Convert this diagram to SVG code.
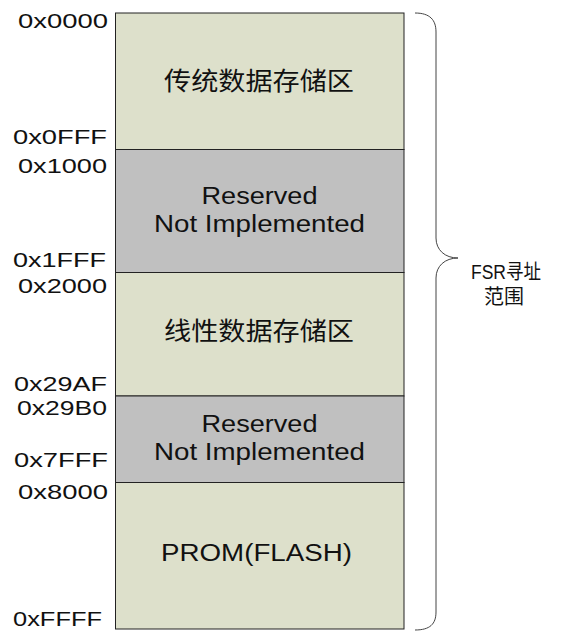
<svg xmlns="http://www.w3.org/2000/svg" width="582" height="635" viewBox="0 0 582 635">
<style>
.g{fill:#dde0cb;stroke:#222;stroke-width:1}
.r{fill:#c0c0c0;stroke:#222;stroke-width:1}
.t{font-family:"Liberation Sans","Noto Sans CJK SC",sans-serif;fill:#111}
.addr{font-size:21px;text-anchor:end}
.blk{font-size:23px;text-anchor:middle}
.cjk{font-family:"Noto Sans CJK SC","Liberation Sans",sans-serif;font-size:25px;text-anchor:middle;fill:#111}
.lbl{font-family:"Liberation Sans","Noto Sans CJK SC",sans-serif;font-size:20px;text-anchor:middle;fill:#111}
</style>
<rect width="582" height="635" fill="#fff"/>
<g id="blocks">
<g id="n1"><rect class="g" x="115.5" y="13" width="288.5" height="136.5"/><text class="cjk" x="259" y="90" textLength="190" lengthAdjust="spacingAndGlyphs">传统数据存储区</text></g>
<g id="n2"><rect class="r" x="115.5" y="149.5" width="288.5" height="123"/><text class="t blk" x="259.5" y="204" textLength="116" lengthAdjust="spacingAndGlyphs">Reserved</text><text class="t blk" x="259.5" y="232" textLength="211" lengthAdjust="spacingAndGlyphs">Not Implemented</text></g>
<g id="n3"><rect class="g" x="115.5" y="272.5" width="288.5" height="123.5"/><text class="cjk" x="259" y="340" textLength="190" lengthAdjust="spacingAndGlyphs">线性数据存储区</text></g>
<g id="n4"><rect class="r" x="115.5" y="396" width="288.5" height="86.5"/><text class="t blk" x="259.5" y="432" textLength="116" lengthAdjust="spacingAndGlyphs">Reserved</text><text class="t blk" x="259.5" y="460" textLength="211" lengthAdjust="spacingAndGlyphs">Not Implemented</text></g>
<g id="n5"><rect class="g" x="115.5" y="482.5" width="288.5" height="146.5"/><text class="t blk" x="256.5" y="561" textLength="191" lengthAdjust="spacingAndGlyphs">PROM(FLASH)</text></g>
</g>
<g id="addresses">
<text class="t addr" x="108" y="28" textLength="90" lengthAdjust="spacingAndGlyphs">0x0000</text>
<text class="t addr" x="107" y="144" textLength="94" lengthAdjust="spacingAndGlyphs">0x0FFF</text>
<text class="t addr" x="107" y="172.5" textLength="89" lengthAdjust="spacingAndGlyphs">0x1000</text>
<text class="t addr" x="106" y="266.5" textLength="93" lengthAdjust="spacingAndGlyphs">0x1FFF</text>
<text class="t addr" x="107" y="293" textLength="89" lengthAdjust="spacingAndGlyphs">0x2000</text>
<text class="t addr" x="107" y="391" textLength="93" lengthAdjust="spacingAndGlyphs">0x29AF</text>
<text class="t addr" x="107" y="415" textLength="90" lengthAdjust="spacingAndGlyphs">0x29B0</text>
<text class="t addr" x="108" y="467" textLength="94" lengthAdjust="spacingAndGlyphs">0x7FFF</text>
<text class="t addr" x="108" y="499" textLength="90" lengthAdjust="spacingAndGlyphs">0x8000</text>
<text class="t addr" x="102" y="626" textLength="89" lengthAdjust="spacingAndGlyphs">0xFFFF</text>
</g>
<g id="connectors">
<path d="M415,13 C430,13 436,20 436,32 L436,238 C436,250 445,258 458,258 C445,258 436,266 436,278 L436,612 C436,624 430,630 415,630" fill="none" stroke="#444" stroke-width="1"/>
</g>
<g id="label">
<text class="lbl" x="506" y="279" textLength="70" lengthAdjust="spacingAndGlyphs">FSR寻址</text>
<text class="lbl" x="504" y="304">范围</text>
</g>
</svg>
